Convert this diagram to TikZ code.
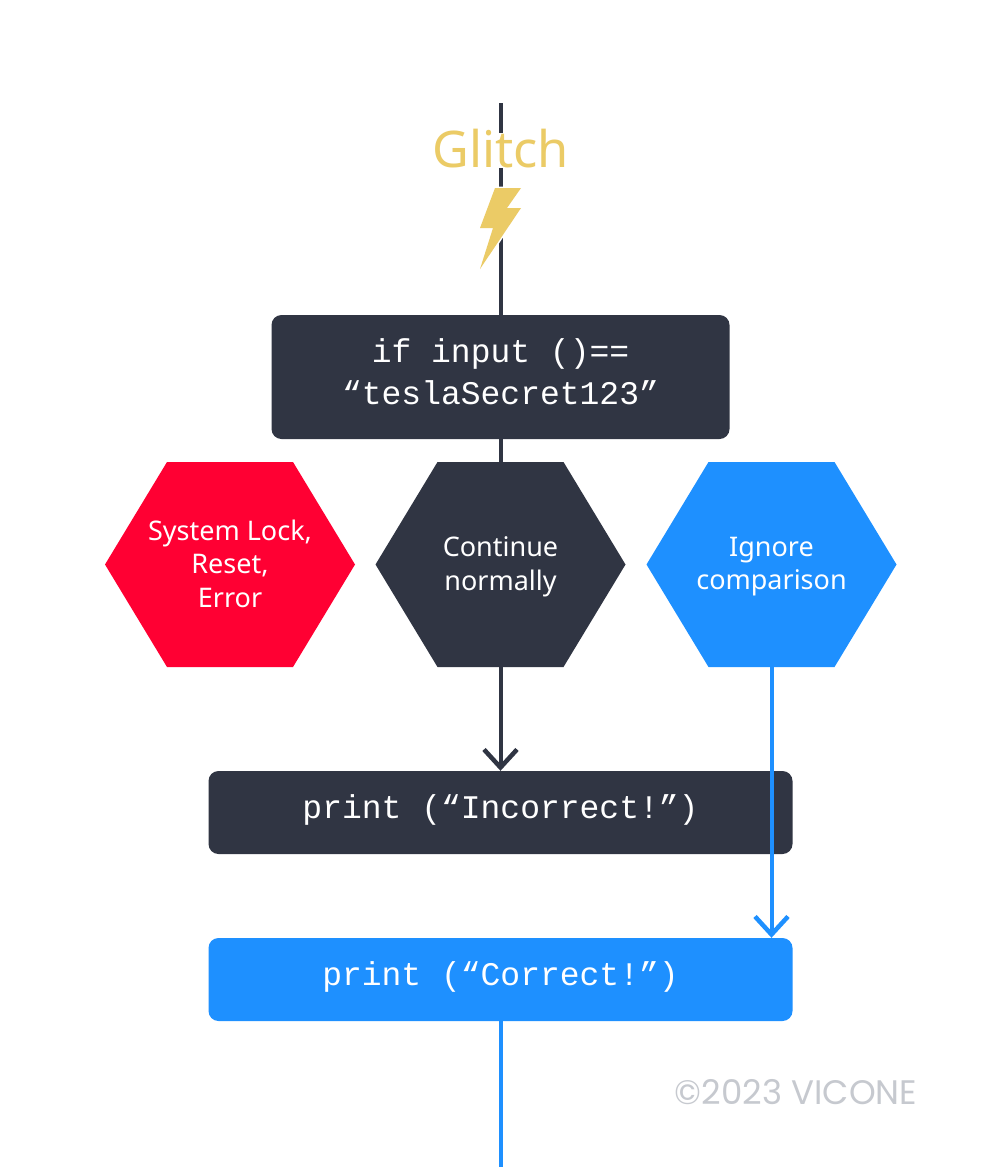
\documentclass[tikz,border=0pt]{standalone}
\usepackage{fontspec}
\setmainfont{Noto Sans}
\newfontfamily\codefont{Liberation Mono}
\newfontfamily\markfont{Poppins}
\usetikzlibrary{arrows.meta,calc}
\definecolor{inkdark}{HTML}{303543}
\definecolor{inkblue}{HTML}{1E90FF}
\definecolor{inkred}{HTML}{FF0033}
\definecolor{inkgold}{HTML}{EBCB66}
\definecolor{inkgrey}{HTML}{C6C9CF}
\tikzset{
  x=1pt,y=1pt,
  codebox/.style={rounded corners=10pt,inner sep=0pt,text=white,align=center,text depth=11pt,
    font=\fontsize{33}{42}\selectfont\codefont},
  hexnode/.style={minimum width=250pt,minimum height=205pt,inner sep=0pt,text=white,align=center,text depth=2pt,
    font=\fontsize{27}{33.5}\selectfont,
    path picture={\fill[#1] (path picture bounding box.west)
      -- ($(path picture bounding box.north west)+(62,0)$)
      -- ($(path picture bounding box.north east)+(-62,0)$)
      -- (path picture bounding box.east)
      -- ($(path picture bounding box.south east)+(-62,0)$)
      -- ($(path picture bounding box.south west)+(62,0)$) -- cycle;}},
  flow/.style={line width=4pt},
  flowhead/.style={flow,-{Straight Barb[length=18pt,width=33pt,line width=4.5pt]}},
}
\begin{document}
\begin{tikzpicture}
\useasboundingbox (0,0) rectangle (1001,-1167);
\fill[white] (0,0) rectangle (1001,-1167);
\coordinate (top) at (500.5,-103);
\coordinate (bottom) at (500.5,-1167);
\node[codebox,fill=inkdark,minimum width=458pt,minimum height=124pt] (cond) at (500.5,-377) {if input ()==\\“teslaSecret123”};
\node[hexnode=inkred] (lock) at (230,-564.5) {System Lock,\\Reset,\\Error};
\node[hexnode=inkdark] (cont) at (500.5,-564.5) {Continue\\normally};
\node[hexnode=inkblue] (ignore) at (771.5,-564.5) {Ignore\\comparison};
\node[codebox,fill=inkdark,minimum width=584pt,minimum height=83pt] (wrong) at (500.5,-812.5) {print (“Incorrect!”)};
\node[codebox,fill=inkblue,minimum width=584pt,minimum height=83pt] (right) at (500.5,-979.5) {print (“Correct!”)};
\draw[flow,inkdark] (top) -- (cond.north);
\draw[flow,inkdark] (cond.south) -- (cont.north);
\draw[flowhead,inkdark] (cont.south) -- (wrong.north);
\draw[flowhead,inkblue] (ignore.south) -- (ignore.south |- right.north);
\draw[flow,inkblue] (right.south) -- (bottom);
\fill[white] (497,-133) rectangle (504,-168);
\draw[white,line width=3pt,line join=miter]
  (495,-188) -- (521,-188) -- (507,-208) -- (521,-208) -- (480,-269) -- (493,-228) -- (480,-228) -- cycle;
\fill[inkgold]
  (495,-188) -- (521,-188) -- (507,-208) -- (521,-208) -- (480,-269) -- (493,-228) -- (480,-228) -- cycle;
\node[text=inkgold,inner sep=0pt,font=\fontsize{50.5}{60}\selectfont] (glitch) at (500.5,-149) {Glitch};
\node[text=inkgrey,inner sep=0pt,font=\fontsize{34}{40}\selectfont\markfont] (mark) at (796,-1092) {©2023 VICONE};
\end{tikzpicture}
\end{document}
